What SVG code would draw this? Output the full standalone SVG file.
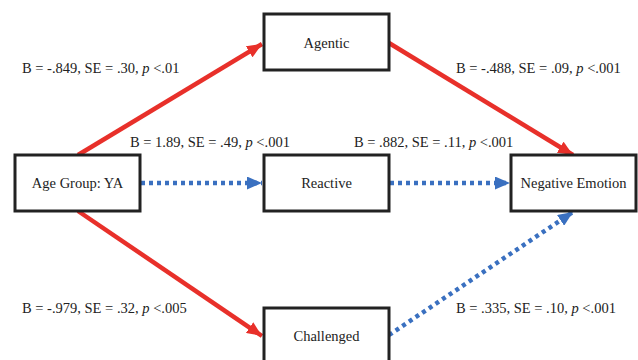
<svg xmlns="http://www.w3.org/2000/svg" width="638" height="360" viewBox="0 0 638 360">
<style>
.box{fill:#fff;stroke:#222;stroke-width:3}
.t{font-family:"Liberation Serif","Times New Roman",serif;font-size:14.5px;fill:#222}
.c{text-anchor:middle}
.red{stroke:#e8302a;stroke-width:4.5;fill:none}
.blue{stroke:#3a70c0;stroke-width:4.5;fill:none;stroke-dasharray:4 4}
</style>
<defs>
<marker id="ar" markerUnits="userSpaceOnUse" markerWidth="15" markerHeight="13" refX="15" refY="6.5" orient="auto"><path d="M0,0 L15,6.5 L0,13 z" fill="#e8302a"/></marker>
<marker id="ab" markerUnits="userSpaceOnUse" markerWidth="15" markerHeight="13" refX="15" refY="6.5" orient="auto"><path d="M0,0 L15,6.5 L0,13 z" fill="#3a70c0"/></marker>
</defs>
<rect width="638" height="360" fill="#fff"/>
<g id="connectors">
<line class="red" x1="78" y1="155" x2="262" y2="44" marker-end="url(#ar)"/>
<line class="red" x1="389" y1="43" x2="573" y2="155" marker-end="url(#ar)"/>
<line class="red" x1="78" y1="211" x2="262" y2="336" marker-end="url(#ar)"/>
<line class="blue" x1="141" y1="183" x2="262" y2="183" marker-end="url(#ab)"/>
<line class="blue" x1="390" y1="183" x2="510" y2="183" marker-end="url(#ab)"/>
<line class="blue" x1="389" y1="335" x2="573" y2="212" marker-end="url(#ab)"/>
</g>
<g id="age"><rect class="box" x="15" y="155" width="125" height="56"/><text class="t c" x="77.5" y="188">Age Group: YA</text></g>
<g id="agentic"><rect class="box" x="264" y="14" width="125" height="56"/><text class="t c" x="326.5" y="48">Agentic</text></g>
<g id="reactive"><rect class="box" x="264" y="155" width="125" height="56"/><text class="t c" x="326.5" y="188">Reactive</text></g>
<g id="negemo"><rect class="box" x="511" y="155" width="125" height="56"/><text class="t c" x="573.5" y="188">Negative Emotion</text></g>
<g id="challenged"><rect class="box" x="264" y="308" width="125" height="56"/><text class="t c" x="326.5" y="341">Challenged</text></g>
<g id="labels">
<text class="t" x="22" y="73">B = -.849, SE = .30, <tspan font-style="italic">p</tspan> &lt;.01</text>
<text class="t" x="130" y="147">B = 1.89, SE = .49, <tspan font-style="italic">p</tspan> &lt;.001</text>
<text class="t" x="456" y="73">B = -.488, SE = .09, <tspan font-style="italic">p</tspan> &lt;.001</text>
<text class="t" x="354" y="147">B = .882, SE = .11, <tspan font-style="italic">p</tspan> &lt;.001</text>
<text class="t" x="22" y="313">B = -.979, SE = .32, <tspan font-style="italic">p</tspan> &lt;.005</text>
<text class="t" x="456" y="313">B = .335, SE = .10, <tspan font-style="italic">p</tspan> &lt;.001</text>
</g>
</svg>
